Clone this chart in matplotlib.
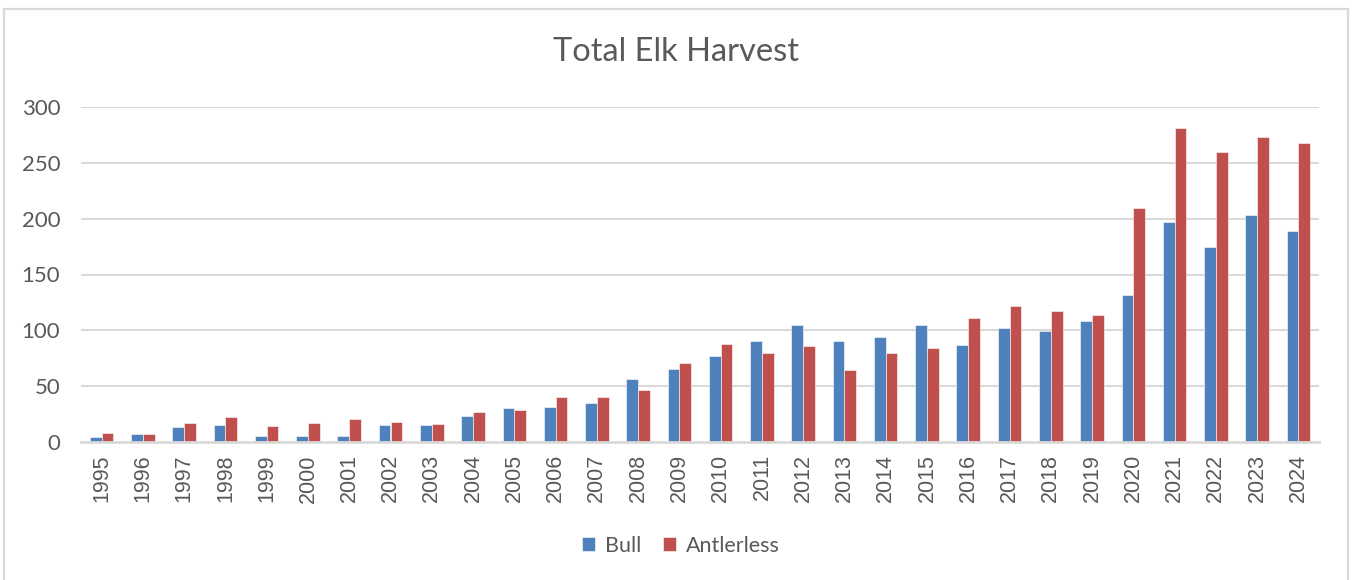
import matplotlib
matplotlib.use("Agg")
import matplotlib.pyplot as plt
import numpy as np
from matplotlib.patches import Rectangle

years = [str(y) for y in range(1995, 2025)]
bull = [4, 7, 13, 15, 5, 5, 5, 15, 15, 23, 30, 31, 35, 56, 65, 77, 90, 105,
        90, 94, 105, 87, 102, 99, 108, 132, 197, 175, 203, 189]
antlerless = [8, 7, 17, 22, 14, 17, 20, 18, 16, 27, 28, 40, 40, 46, 71, 88, 80,
              86, 64, 80, 84, 111, 122, 117, 114, 210, 281, 260, 273, 268]
y_ticks = [0, 50, 100, 150, 200, 250, 300]

BLUE = "#4F81BD"
RED = "#C0504D"
GRID = "#D9D9D9"
TEXT = "#595959"

W, H = 1352, 580
fig = plt.figure(figsize=(W / 100, H / 100), dpi=100)
fig.patch.set_facecolor("white")

# chart frame
fig.patches.append(Rectangle((4 / W, -0.05), (1348 - 4) / W, 1 - 9 / H + 0.05,
                             transform=fig.transFigure, fill=False,
                             edgecolor=GRID, linewidth=1.6))

ax = fig.add_axes([81 / W, 1 - 441.7 / H, (1319 - 81) / W, (441.7 - 107.3) / H])

x = np.arange(len(years))
bw = 1 / 3.5
ax.bar(x - bw / 2, bull, width=bw, color=BLUE, label="Bull", zorder=3,
       edgecolor="white", linewidth=0.4)
ax.bar(x + bw / 2, antlerless, width=bw, color=RED, label="Antlerless", zorder=3,
       edgecolor="white", linewidth=0.4)

ax.set_xlim(-0.5, len(years) - 0.5)
ax.set_ylim(0, 300)
ax.set_yticks(y_ticks)
ax.set_yticklabels([str(v) for v in y_ticks], fontfamily="Lato", fontsize=16,
                   color=TEXT)
ax.set_xticks(x)
ax.set_xticklabels(years, rotation=90, fontfamily="Liberation Sans",
                   fontsize=15.5, color=TEXT)
ax.tick_params(axis="both", length=0)
ax.tick_params(axis="y", pad=15)
ax.tick_params(axis="x", pad=9)

for v in y_ticks[1:]:
    ax.axhline(v, color=GRID, linewidth=1.5, zorder=1)
for s in ["top", "right", "left"]:
    ax.spines[s].set_visible(False)
ax.spines["bottom"].set_color(GRID)
ax.spines["bottom"].set_linewidth(2)
ax.spines["bottom"].set_zorder(4)

fig.text(676 / W, 1 - 52 / H, "Total Elk Harvest", ha="center", va="center",
         fontfamily="Lato", fontsize=23.5, color=TEXT)

leg = fig.legend(loc="center", bbox_to_anchor=(681 / W, 1 - 546 / H),
                 ncol=2, frameon=False, prop={"family": "Lato", "size": 15.5},
                 handlelength=0.62, handleheight=0.62, handletextpad=0.45,
                 columnspacing=1.0)
for t in leg.get_texts():
    t.set_color(TEXT)

fig.savefig("out.png", dpi=100, facecolor="white")
